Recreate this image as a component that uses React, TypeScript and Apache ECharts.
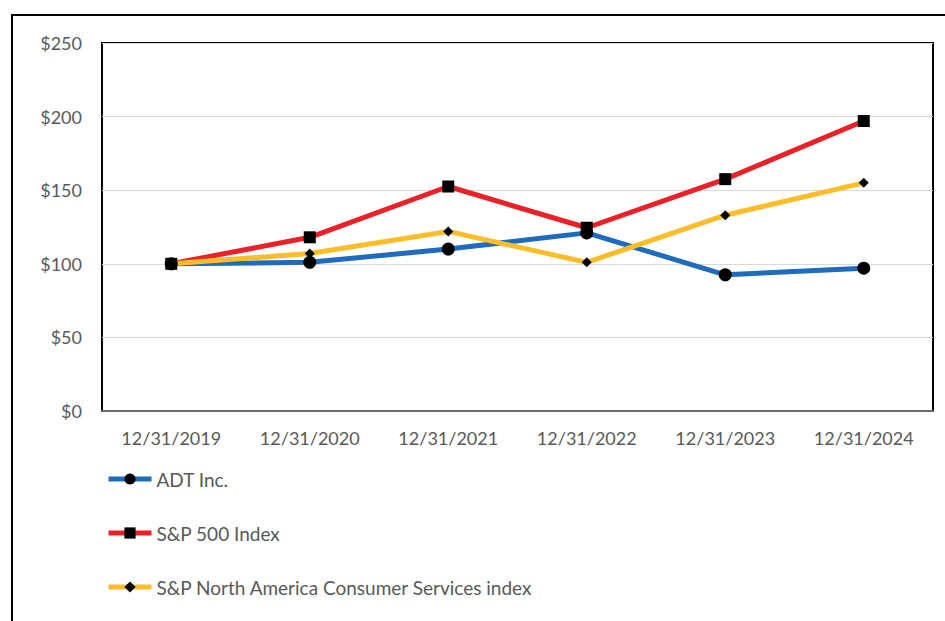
import React, { useEffect, useRef } from "react";
import * as echarts from "echarts";

const categories = ["12/31/2019", "12/31/2020", "12/31/2021", "12/31/2022", "12/31/2023", "12/31/2024"];
const adt = [100, 101, 110, 121, 92.5, 97];
const sp500 = [100, 118, 152.5, 124.5, 157.5, 197];
const consumer = [100, 107, 122, 101, 133, 155];
const yTicks = [0, 50, 100, 150, 200, 250];

const FONT = "Lato, 'Open Sans', sans-serif";
const TEXT = "#595959";

export default function App() {
  const ref = useRef<HTMLDivElement>(null);
  useEffect(() => {
    if (!ref.current) return;
    const chart = echarts.init(ref.current, undefined, { renderer: "svg" });
    const mkSeries = (name: string, data: number[], color: string, symbol: string, size: number) => ({
      name,
      type: "line",
      data,
      symbol,
      symbolSize: size,
      showAllSymbol: true,
      lineStyle: { color, width: 5 },
      itemStyle: { color: "#000" },
      emphasis: { disabled: true },
      z: 3,
    });
    chart.setOption({
      animation: false,
      backgroundColor: "#fff",
      textStyle: { fontFamily: FONT },
      graphic: [
        {
          type: "rect",
          shape: { x: 12, y: 15, width: 1200, height: 1200 },
          style: { fill: "none", stroke: "#000", lineWidth: 2 },
          silent: true,
        },
      ],
      grid: {
        left: 102,
        top: 43,
        right: 12,
        bottom: 210,
        show: true,
        borderColor: "#000",
        borderWidth: 2,
        containLabel: false,
      },
      legend: {
        orient: "vertical",
        left: 106,
        top: 469,
        padding: 0,
        itemWidth: 43,
        itemHeight: 14,
        itemGap: 34,
        lineStyle: { width: 5 },
        textStyle: { fontFamily: FONT, fontSize: 19, color: TEXT, lineHeight: 20 },
        data: ["ADT Inc.", "S&P 500 Index", "S&P North America Consumer Services index"],
      },
      xAxis: {
        type: "category",
        data: categories,
        boundaryGap: true,
        axisLine: { show: true, lineStyle: { color: "#6b6b6b", width: 2 } },
        axisTick: { show: false },
        axisLabel: { fontFamily: FONT, fontSize: 18, color: TEXT, margin: 18, interval: 0 },
      },
      yAxis: {
        type: "value",
        min: yTicks[0],
        max: yTicks[yTicks.length - 1],
        interval: 50,
        axisLine: { show: false },
        axisTick: { show: false },
        splitLine: { lineStyle: { color: "#d9d9d9", width: 1 } },
        axisLabel: {
          fontFamily: FONT,
          fontSize: 18,
          color: TEXT,
          margin: 20,
          formatter: (v: number) => "$" + v,
        },
      },
      series: [
        mkSeries("ADT Inc.", adt, "#1f6bbd", "circle", 13),
        mkSeries("S&P 500 Index", sp500, "#ec2027", "rect", 12),
        mkSeries("S&P North America Consumer Services index", consumer, "#fbbd2a", "diamond", 10),
      ],
    });
    return () => chart.dispose();
  }, []);
  return (
    <div
      ref={ref}
      style={{ position: "fixed", left: 0, top: 0, width: 945, height: 621 }}
    />
  );
}
